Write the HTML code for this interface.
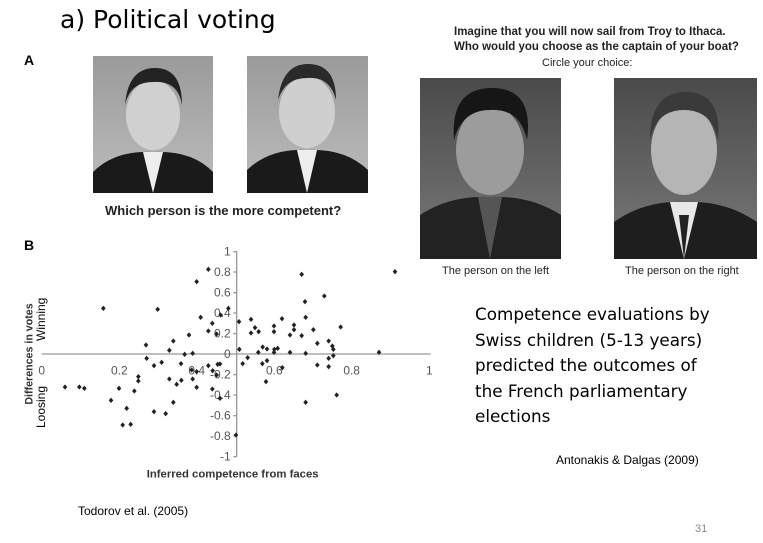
<!DOCTYPE html>
<html><head><style>
body{margin:0;background:#fff;}
#s{position:relative;width:763px;height:543px;overflow:hidden;font-family:"Liberation Sans",sans-serif;}
.t{position:absolute;white-space:nowrap;}
</style></head><body><div id="s">
<div class="t" style="left:60px;top:5px;font-size:25px;font-family:'DejaVu Sans','Liberation Sans',sans-serif;color:#000;">a) Political voting</div>
<div class="t" style="left:24px;top:52px;font-size:14px;font-weight:bold;">A</div>
<div class="t" style="left:24px;top:237px;font-size:14px;font-weight:bold;">B</div>
<svg style="position:absolute;left:0;top:0" width="763" height="543">
<defs>
<linearGradient id="bg1" x1="0" y1="0" x2="0" y2="1"><stop offset="0" stop-color="#9a9a9a"/><stop offset="1" stop-color="#bdbdbd"/></linearGradient>
<linearGradient id="bg2" x1="0" y1="0" x2="0" y2="1"><stop offset="0" stop-color="#4a4a4a"/><stop offset="1" stop-color="#7a7a7a"/></linearGradient>
</defs>
<rect x="93" y="56" width="120" height="137" fill="url(#bg1)"/>
<path d="M93,193 L93,172 Q115,150 153,152 Q192,150 213,172 L213,193Z" fill="#1a1a1a"/>
<ellipse cx="153" cy="115" rx="27" ry="35" fill="#d0d0d0"/>
<path d="M125,105 Q128,68 155,68 Q182,68 182,105 Q178,80 153,82 Q130,82 125,105Z" fill="#222"/>
<path d="M143,152 L153,193 L163,152Z" fill="#eee"/>
<rect x="247" y="56" width="121" height="137" fill="url(#bg1)"/>
<path d="M247,193 L247,170 Q270,148 307,150 Q345,148 368,170 L368,193Z" fill="#1a1a1a"/>
<ellipse cx="307" cy="112" rx="28" ry="36" fill="#cfcfcf"/>
<path d="M278,100 Q282,64 308,64 Q336,64 336,100 Q330,76 307,78 Q285,78 278,100Z" fill="#2a2a2a"/>
<path d="M297,150 L307,193 L317,150Z" fill="#eee"/>
<rect x="420" y="78" width="141" height="181" fill="url(#bg2)"/>
<path d="M420,259 L420,215 Q450,195 490,197 Q530,195 561,215 L561,259Z" fill="#222"/>
<ellipse cx="490" cy="150" rx="34" ry="45" fill="#9c9c9c"/>
<path d="M454,140 Q450,88 492,88 Q534,88 527,140 Q520,108 490,110 Q462,110 454,140Z" fill="#161616"/>
<path d="M478,197 L490,259 L502,197Z" fill="#555"/>
<rect x="614" y="78" width="143" height="181" fill="url(#bg2)"/>
<path d="M614,259 L614,222 Q645,200 685,202 Q725,200 757,222 L757,259Z" fill="#1e1e1e"/>
<ellipse cx="684" cy="150" rx="33" ry="45" fill="#b5b5b5"/>
<path d="M650,140 Q650,92 686,92 Q722,92 718,140 Q712,110 684,110 Q656,110 650,140Z" fill="#3a3a3a"/>
<path d="M670,202 L684,259 L698,202Z" fill="#e8e8e8"/>
<path d="M679,215 L684,259 L689,215Z" fill="#222"/>
<g transform="translate(20,235) scale(0.33333)" fill="#222" stroke="none">
<line x1="65" y1="357" x2="1232" y2="357" stroke="#999" stroke-width="4"/>
<line x1="650" y1="48" x2="650" y2="665" stroke="#999" stroke-width="4"/>
<g stroke="#999" stroke-width="4">
<line x1="640" y1="50" x2="650" y2="50"/><line x1="640" y1="111" x2="650" y2="111"/><line x1="640" y1="173" x2="650" y2="173"/><line x1="640" y1="234" x2="650" y2="234"/><line x1="640" y1="296" x2="650" y2="296"/><line x1="640" y1="419" x2="650" y2="419"/><line x1="640" y1="480" x2="650" y2="480"/><line x1="640" y1="542" x2="650" y2="542"/><line x1="640" y1="603" x2="650" y2="603"/><line x1="640" y1="665" x2="650" y2="665"/>
</g>
<g font-family="Liberation Sans,sans-serif" font-size="36" fill="#555" text-anchor="end">
<text x="632" y="62">1</text><text x="632" y="123">0.8</text><text x="632" y="185">0.6</text><text x="632" y="246">0.4</text><text x="632" y="308">0.2</text><text x="632" y="369">0</text><text x="632" y="431">-0.2</text><text x="632" y="492">-0.4</text><text x="632" y="554">-0.6</text><text x="632" y="615">-0.8</text><text x="632" y="677">-1</text>
</g>
<g font-family="Liberation Sans,sans-serif" font-size="36" fill="#555" text-anchor="middle">
<text x="65" y="418">0</text><text x="298" y="418">0.2</text><text x="530" y="418">0.4</text><text x="763" y="418">0.6</text><text x="995" y="418">0.8</text><text x="1228" y="418">1</text>
</g>
<text x="638" y="728" font-family="Liberation Sans,sans-serif" font-size="34" font-weight="bold" fill="#333" text-anchor="middle">Inferred competence from faces</text>
<text transform="translate(38,357) rotate(-90)" font-family="Liberation Sans,sans-serif" font-size="32" font-weight="bold" fill="#333" text-anchor="middle">Differences in votes</text>
<g id="pts"></g>
</g>
</svg>
<div class="t" style="left:34px;top:341px;font-size:12px;transform:rotate(-90deg);transform-origin:left top;">Winning</div>
<div class="t" style="left:34px;top:428px;font-size:12px;transform:rotate(-90deg);transform-origin:left top;">Loosing</div>
<div class="t" style="left:105px;top:203px;font-size:13px;font-weight:bold;color:#222;">Which person is the more competent?</div>
<div class="t" style="left:454px;top:26px;font-size:11.5px;font-weight:bold;color:#222;">Imagine that you will now sail from Troy to Ithaca.</div>
<div class="t" style="left:454px;top:41px;font-size:11.5px;font-weight:bold;color:#222;">Who would you choose as the captain of your boat?</div>
<div class="t" style="left:542px;top:57px;font-size:11px;color:#222;">Circle your choice:</div>
<div class="t" style="left:442px;top:265px;font-size:11px;color:#222;">The person on the left</div>
<div class="t" style="left:625px;top:265px;font-size:11px;color:#222;">The person on the right</div>
<div class="t" style="left:475px;top:302px;font-size:16.8px;line-height:25.5px;font-family:'DejaVu Sans','Liberation Sans',sans-serif;">Competence evaluations by<br>Swiss children (5-13 years)<br>predicted the outcomes of<br>the French parliamentary<br>elections</div>
<div class="t" style="left:556px;top:453px;font-size:12px;">Antonakis &amp; Dalgas (2009)</div>
<div class="t" style="left:78px;top:504px;font-size:12px;">Todorov et al. (2005)</div>
<div class="t" style="left:695px;top:523px;font-size:11px;color:#888;">31</div>
</div>
<script>
var p=[[565,103],[530,140],[845,118],[1125,110],[250,220],[413,223],[625,220],[602,240],[577,265],[542,247],[565,288],[590,297],[507,300],[378,330],[460,318],[448,346],[494,358],[518,355],[380,370],[402,392],[425,382],[483,386],[515,405],[530,410],[565,392],[578,407],[590,420],[593,388],[600,387],[448,432],[484,436],[518,432],[470,448],[355,425],[355,438],[530,457],[577,462],[600,490],[297,460],[343,468],[273,496],[460,502],[320,520],[402,530],[437,536],[308,570],[332,568],[135,456],[178,456],[193,460],[648,600],[657,260],[693,253],[705,278],[716,290],[693,294],[658,343],[668,386],[683,368],[715,352],[728,336],[741,342],[727,386],[741,377],[738,440],[762,273],[762,290],[763,343],[762,352],[773,340],[786,251],[787,398],[810,300],[822,270],[822,284],[810,352],[845,302],[855,200],[857,247],[857,355],[880,284],[892,325],[892,390],[913,183],[926,318],[926,370],[926,395],[937,333],[940,343],[940,362],[962,276],[950,480],[857,502],[1077,352]];
var g=document.getElementById('pts'),s='';
p.forEach(function(q){var x=q[0],y=q[1];s+='<path d="M'+x+','+(y-8)+'L'+(x+7)+','+y+'L'+x+','+(y+8)+'L'+(x-7)+','+y+'Z"/>';});
g.innerHTML=s;
</script>
</body></html>
